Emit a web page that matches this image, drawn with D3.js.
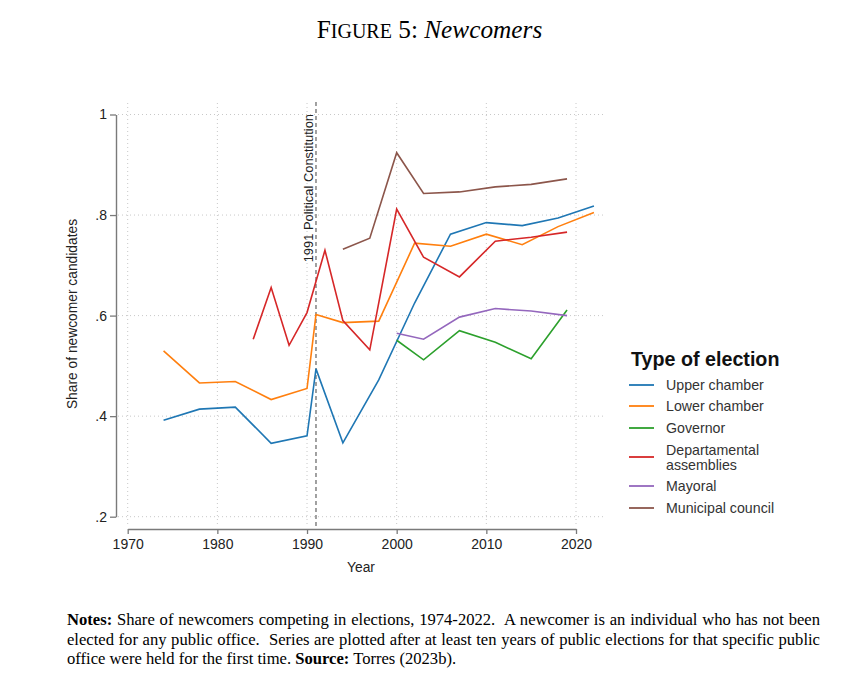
<!DOCTYPE html>
<html><head><meta charset="utf-8">
<script src="https://cdn.jsdelivr.net/npm/d3@7"></script>
<style>
body{margin:0;background:#fff;}
svg{display:block;}
</style></head>
<body>
<svg id="chart" width="845" height="676"></svg>
<script>
// ---- data ----
const xTicks = [1970,1980,1990,2000,2010,2020];
const yTicks = [0.2,0.4,0.6,0.8,1];
const seriesNames = ["Upper chamber","Lower chamber","Governor","Departamental assemblies","Mayoral","Municipal council"];
const seriesColors = ["#1f77b4","#ff7f0e","#2ca02c","#d62728","#9467bd","#8c564b"];
const upperYears = [1974,1978,1982,1986,1990,1991,1994,1998,2002,2006,2010,2014,2018,2022];
const upperVals  = [0.392,0.414,0.418,0.346,0.361,0.494,0.347,0.472,0.625,0.762,0.785,0.779,0.794,0.818];
const lowerYears = [1974,1978,1982,1986,1990,1991,1994,1998,2002,2006,2010,2014,2018,2022];
const lowerVals  = [0.530,0.466,0.469,0.433,0.455,0.602,0.586,0.589,0.744,0.738,0.762,0.741,0.777,0.805];
const govYears   = [2000,2003,2007,2011,2015,2019];
const govVals    = [0.551,0.512,0.570,0.547,0.514,0.611];
const deptYears  = [1984,1986,1988,1990,1992,1994,1997,2000,2003,2007,2011,2015,2019];
const deptVals   = [0.553,0.656,0.541,0.606,0.730,0.590,0.532,0.812,0.716,0.677,0.748,0.756,0.766];
const mayorYears = [2000,2003,2007,2011,2015,2019];
const mayorVals  = [0.565,0.553,0.597,0.614,0.609,0.600];
const muniYears  = [1994,1997,2000,2003,2007,2011,2015,2019];
const muniVals   = [0.732,0.754,0.924,0.843,0.846,0.856,0.861,0.872];
const constitutionYear = 1991;
const constitutionLabel = "1991 Political Constitution";
const titleParts = ["F","IGURE"," 5: ","Newcomers"];
const notesLines = [
  [["Notes:",true],[" Share of newcomers competing in elections, 1974-2022.  A newcomer is an individual who has not been",false]],
  [["elected for any public office.  Series are plotted after at least ten years of public elections for that specific public",false]],
  [["office were held for the first time. ",false],["Source:",true],[" Torres (2023b).",false]]
];

const allYears = [upperYears,lowerYears,govYears,deptYears,mayorYears,muniYears];
const allVals = [upperVals,lowerVals,govVals,deptVals,mayorVals,muniVals];

const svg = d3.select("#chart");
const sans = "'Liberation Sans', Arial, sans-serif";
const serif = "'Liberation Serif', 'Times New Roman', serif";

const x = d3.scaleLinear().domain([1970,2020]).range([127.7,576]);
const y = d3.scaleLinear().domain([0.2,1]).range([516.7,114.5]);

// gridlines
const grid = svg.append("g").attr("stroke","#c8c8c8").attr("stroke-width",1).attr("stroke-dasharray","1,3");
grid.selectAll("line.h").data(yTicks).join("line")
  .attr("x1",118).attr("x2",606).attr("y1",d=>y(d)).attr("y2",d=>y(d));
grid.selectAll("line.v").data(xTicks).join("line")
  .attr("y1",103).attr("y2",526).attr("x1",d=>x(d)).attr("x2",d=>x(d));

// axes
const xAxis = svg.append("g").attr("transform","translate(0,529)")
  .call(d3.axisBottom(x).tickValues(xTicks).tickFormat(d3.format("d")).tickSize(5).tickSizeOuter(0).tickPadding(5));
const yAxis = svg.append("g").attr("transform","translate(116,0)")
  .call(d3.axisLeft(y).tickValues(yTicks).tickFormat(d=> d===1?"1":d3.format(".1f")(d).replace(/^0/,"")).tickSize(6).tickSizeOuter(0).tickPadding(3));
[xAxis,yAxis].forEach(a=>{
  a.select(".domain").attr("stroke","#7a7a7a").attr("stroke-width",1.4);
  a.selectAll(".tick line").attr("stroke","#7a7a7a").attr("stroke-width",1.3);
  a.selectAll(".tick text").attr("font-family",sans).attr("font-size",14).attr("fill","#222");
});

// constitution line
svg.append("line").attr("x1",x(constitutionYear)).attr("x2",x(constitutionYear))
  .attr("y1",102).attr("y2",529).attr("stroke","#8a8a8a").attr("stroke-width",1.6).attr("stroke-dasharray","4,3");
svg.append("text").attr("transform",`translate(${x(constitutionYear)-3},114) rotate(-90)`)
  .attr("text-anchor","end").attr("font-family",sans).attr("font-size",12.9).attr("fill","#222")
  .text(constitutionLabel);

// series
const line = d3.line().x(d=>x(d[0])).y(d=>y(d[1]));
allYears.forEach((ys,i)=>{
  const pts = ys.map((yr,j)=>[yr,allVals[i][j]]);
  svg.append("path").datum(pts).attr("d",line).attr("fill","none")
    .attr("stroke",seriesColors[i]).attr("stroke-width",1.6).attr("stroke-linejoin","miter");
});

// axis titles
svg.append("text").attr("x",361).attr("y",572).attr("text-anchor","middle")
  .attr("font-family",sans).attr("font-size",13.8).attr("fill","#222").text("Year");
svg.append("text").attr("transform","translate(77,314) rotate(-90)").attr("text-anchor","middle")
  .attr("font-family",sans).attr("font-size",13.8).attr("fill","#222").text("Share of newcomer candidates");

// legend
const lg = svg.append("g");
lg.append("text").attr("x",631).attr("y",366).attr("font-family",sans).attr("font-weight","bold")
  .attr("font-size",19.7).attr("fill","#111").text("Type of election");
const rowY = [385,406,428,457,486,508];
seriesNames.forEach((n,i)=>{
  lg.append("line").attr("x1",629).attr("x2",654).attr("y1",rowY[i]).attr("y2",rowY[i])
    .attr("stroke",seriesColors[i]).attr("stroke-width",1.8);
  const t = lg.append("text").attr("font-family",sans).attr("font-size",14.2).attr("fill","#333");
  if(n==="Departamental assemblies"){
    t.append("tspan").attr("x",666).attr("y",rowY[i]-7.5+5).text("Departamental");
    t.append("tspan").attr("x",666).attr("y",rowY[i]+7.5+5).text("assemblies");
  } else {
    t.attr("x",666).attr("y",rowY[i]+5).text(n);
  }
});

// title
const tt = svg.append("text").attr("x",429.5).attr("y",37.5).attr("text-anchor","middle")
  .attr("font-family",serif).attr("fill","#000");
tt.append("tspan").attr("font-size",25.3).text(titleParts[0]);
tt.append("tspan").attr("font-size",20).text(titleParts[1]);
tt.append("tspan").attr("font-size",25.3).text(titleParts[2]);
tt.append("tspan").attr("font-size",25.3).attr("font-style","italic").text(titleParts[3]);

// notes
const noteX0 = 67, noteX1 = 820, noteY = [625,644.5,664];
notesLines.forEach((parts,i)=>{
  const t = svg.append("text").attr("x",noteX0).attr("y",noteY[i])
    .attr("font-family",serif).attr("font-size",16.6).attr("fill","#000").attr("xml:space","preserve")
    .style("white-space","pre");
  parts.forEach(p=>{ t.append("tspan").attr("font-weight",p[1]?"bold":null).text(p[0]); });
  if(i<2){
    const w = t.node().getComputedTextLength();
    const txt = parts.map(p=>p[0]).join("");
    const spaces = (txt.match(/ /g)||[]).length;
    t.attr("word-spacing",(noteX1-noteX0-w)/spaces);
  }
});
</script>
</body></html>
